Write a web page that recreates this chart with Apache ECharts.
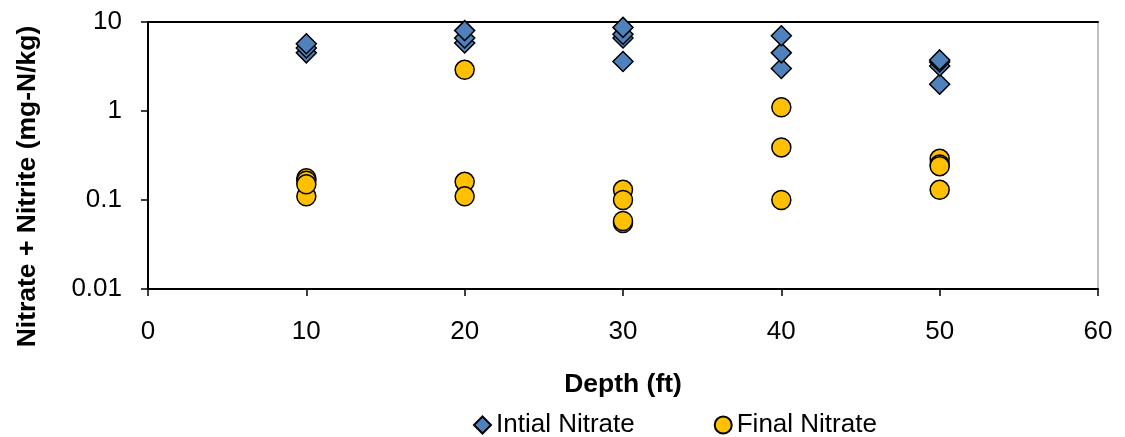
<!DOCTYPE html>
<html>
<head>
<meta charset="utf-8">
<script src="https://cdn.jsdelivr.net/npm/echarts@6/dist/echarts.min.js"></script>
<style>
html,body{margin:0;padding:0;background:#fff;}
#chart{width:1125px;height:437px;}
</style>
</head>
<body>
<div id="chart"></div>
<script>
const xTitle = 'Depth (ft)';
const yTitle = 'Nitrate + Nitrite (mg-N/kg)';
const seriesNames = ['Intial Nitrate', 'Final Nitrate'];
const initialDepth = [10, 10, 10, 20, 20, 20, 30, 30, 30, 30, 40, 40, 40, 50, 50, 50, 50];
const initialValue = [4.5, 5.1, 5.7, 5.8, 6.6, 8.0, 3.6, 6.6, 7.3, 8.7, 3.0, 4.5, 7.0, 2.0, 3.2, 3.55, 3.75];
const finalDepth = [10, 10, 10, 10, 20, 20, 20, 30, 30, 30, 30, 40, 40, 40, 50, 50, 50, 50];
const finalValue = [0.11, 0.175, 0.165, 0.15, 2.9, 0.16, 0.11, 0.13, 0.1, 0.055, 0.058, 1.1, 0.39, 0.1, 0.29, 0.25, 0.24, 0.13];
const xTicks = [0, 10, 20, 30, 40, 50, 60];
const yTicks = [0.01, 0.1, 1, 10];

const font = "'Liberation Sans', Arial, sans-serif";
const initialData = initialDepth.map((d, i) => [d, initialValue[i]]);
const finalData = finalDepth.map((d, i) => [d, finalValue[i]]);

const chart = echarts.init(document.getElementById('chart'), null, {renderer: 'canvas'});
chart.setOption({
  animation: false,
  backgroundColor: '#ffffff',
  grid: {left: 148, right: 27, top: 22, bottom: 148, show: true, borderColor: '#808080', borderWidth: 1},
  xAxis: [{
    type: 'value', min: xTicks[0], max: xTicks[xTicks.length - 1], interval: 10,
    name: xTitle, nameLocation: 'middle', nameGap: 82,
    nameTextStyle: {color: '#000', fontFamily: font, fontSize: 26.5, fontWeight: 'bold'},
    axisLine: {show: true, onZero: false, lineStyle: {color: '#000', width: 2}},
    axisTick: {show: true, length: 7, lineStyle: {color: '#000', width: 1.5}},
    axisLabel: {color: '#000', fontFamily: font, fontSize: 26, margin: 30},
    splitLine: {show: false}
  }, {
    type: 'value', position: 'top', min: xTicks[0], max: xTicks[xTicks.length - 1],
    axisLine: {show: true, lineStyle: {color: '#000', width: 2}},
    axisTick: {show: false}, axisLabel: {show: false}, splitLine: {show: false}
  }],
  yAxis: {
    type: 'log', logBase: 10, min: yTicks[0], max: yTicks[yTicks.length - 1],
    axisLine: {show: true, lineStyle: {color: '#000', width: 2}},
    axisTick: {show: true, length: 7, lineStyle: {color: '#000', width: 1.5}},
    axisLabel: {color: '#000', fontFamily: font, fontSize: 26, margin: 26,
      formatter: v => { const t = yTicks.find(k => Math.abs(Math.log10(k) - Math.log10(v)) < 1e-6); return t !== undefined ? String(t) : ''; }},
    splitLine: {show: false}
  },
  graphic: [{
    type: 'text', x: 27.5, y: 186.5, rotation: Math.PI / 2,
    style: {text: yTitle, fill: '#000', font: 'bold 26.5px ' + font, textAlign: 'center', textVerticalAlign: 'middle'}
  }],
  legend: {
    left: 468, top: 407, itemWidth: 17, itemHeight: 17, itemGap: 79,
    textStyle: {color: '#000', fontFamily: font, fontSize: 26, padding: [0, 0, 0, 0]},
    data: seriesNames
  },
  series: [{
    name: seriesNames[0], type: 'scatter', symbol: 'diamond', symbolSize: 20,
    itemStyle: {color: '#4F81BD', borderColor: '#000', borderWidth: 1.5, opacity: 1},
    data: initialData
  }, {
    name: seriesNames[1], type: 'scatter', symbol: 'circle', symbolSize: 19,
    itemStyle: {color: '#FFC000', borderColor: '#000', borderWidth: 1.5, opacity: 1},
    data: finalData
  }]
});
</script>
</body>
</html>
